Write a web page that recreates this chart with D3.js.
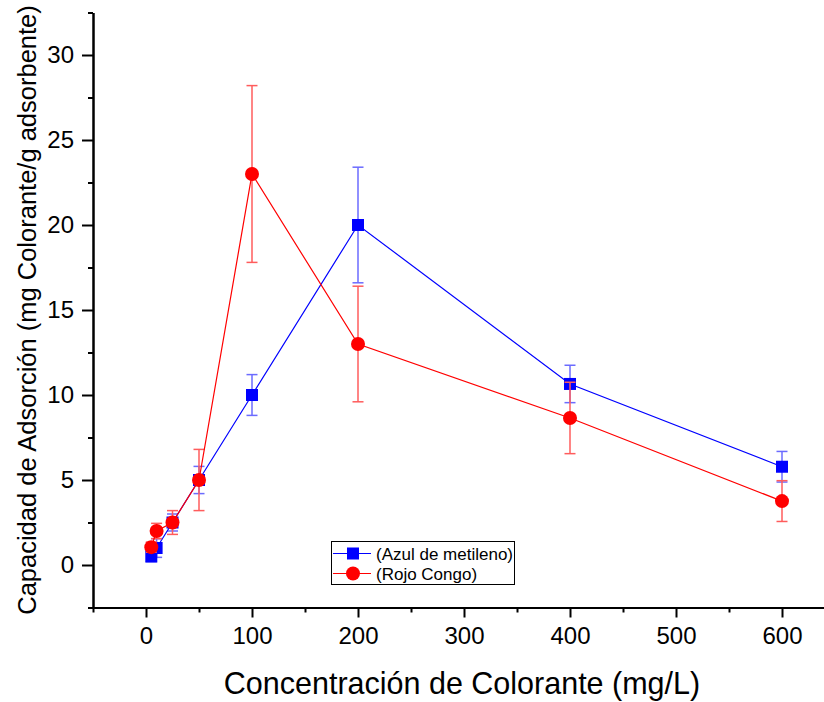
<!DOCTYPE html>
<html><head><meta charset="utf-8">
<script src="https://cdn.jsdelivr.net/npm/d3@7"></script>
<style>body{margin:0;background:#fff}svg{display:block}text{font-family:"Liberation Sans",Arial,sans-serif}</style>
</head><body><svg id="c" width="824" height="702"></svg>
<script>
const concentrations = [5, 10, 25, 50, 100, 200, 400, 600];
const azulValues = [0.5, 1.0, 2.5, 5.0, 10.0, 20.0, 10.65, 5.78];
const azulErrors = [0.3, 0.55, 0.5, 0.8, 1.2, 3.4, 1.1, 0.9];
const rojoValues = [1.05, 2.0, 2.5, 5.0, 23.0, 13.0, 8.65, 3.76];
const rojoErrors = [0.3, 0.45, 0.7, 1.8, 5.2, 3.4, 2.1, 1.2];
const xTicks = [0, 100, 200, 300, 400, 500, 600];
const yTicks = [0, 5, 10, 15, 20, 25, 30];
const seriesNames = ["(Azul de metileno)", "(Rojo Congo)"];

const svg = d3.select("#c");
const x = d3.scaleLinear().domain([-50, 650]).range([93, 835]);
const y = d3.scaleLinear().domain([-2.5, 32.5]).range([607.5, 12.5]);

const xAxisMajor = d3.axisBottom(x).tickValues(xTicks).tickSize(10).tickSizeOuter(0).tickPadding(9);
const xAxisMinor = d3.axisBottom(x).tickValues(d3.range(-50, 651, 50).filter(v => v % 100 !== 0)).tickSize(5).tickSizeOuter(0).tickFormat("");
const yAxisMajor = d3.axisLeft(y).tickValues(yTicks).tickSize(11).tickSizeOuter(0).tickPadding(8);
const yAxisMinor = d3.axisLeft(y).tickValues(d3.range(-2.5, 32.6, 5)).tickSize(5).tickSizeOuter(0).tickFormat("");

function styleAxis(g){
  g.select(".domain").attr("stroke","#000").attr("stroke-width",2);
  g.selectAll(".tick line").attr("stroke","#000").attr("stroke-width",2);
  g.selectAll(".tick text").attr("fill","#000").style("font-size","24px").style("font-family",'"Liberation Sans",Arial,sans-serif');
}
svg.append("g").attr("transform","translate(0,607.5)").call(xAxisMinor).call(styleAxis);
svg.append("g").attr("transform","translate(0,607.5)").call(xAxisMajor).call(styleAxis);
svg.append("g").attr("transform","translate(93,0)").call(yAxisMinor).call(styleAxis);
svg.append("g").attr("transform","translate(93,0)").call(yAxisMajor).call(styleAxis);

svg.append("text").attr("x", 462).attr("y", 694).attr("text-anchor","middle")
  .style("font-size","30.5px").text("Concentración de Colorante (mg/L)");
svg.append("text").attr("transform","translate(36,310) rotate(-90)").attr("text-anchor","middle")
  .style("font-size","25.5px").text("Capacidad de Adsorción (mg Colorante/g adsorbente)");

const series = [
  {name: seriesNames[0], vals: azulValues, errs: azulErrors, color:"#0000ff", err:"#6b6bff", shape:"square"},
  {name: seriesNames[1], vals: rojoValues, errs: rojoErrors, color:"#ff0000", err:"#ff5c5c", shape:"circle"}
];

series.forEach(s => {
  const pts = concentrations.map((c,i)=>({x:c, v:s.vals[i], e:s.errs[i]}));
  const g = svg.append("g");
  pts.forEach(p => {
    g.append("line").attr("x1",x(p.x)).attr("x2",x(p.x)).attr("y1",y(p.v-p.e)).attr("y2",y(p.v+p.e))
      .attr("stroke",s.err).attr("stroke-width",1.5);
    [p.v-p.e, p.v+p.e].forEach(v => g.append("line").attr("x1",x(p.x)-5.5).attr("x2",x(p.x)+5.5)
      .attr("y1",y(v)).attr("y2",y(v)).attr("stroke",s.err).attr("stroke-width",1.5));
  });
  g.append("path").datum(pts).attr("fill","none").attr("stroke",s.color).attr("stroke-width",1.2)
    .attr("d", d3.line().x(d=>x(d.x)).y(d=>y(d.v)));
  pts.forEach(p => {
    if (s.shape==="square") g.append("rect").attr("x",x(p.x)-6).attr("y",y(p.v)-6).attr("width",12).attr("height",12).attr("fill",s.color);
    else g.append("circle").attr("cx",x(p.x)).attr("cy",y(p.v)).attr("r",7).attr("fill",s.color);
  });
});

const lg = svg.append("g");
lg.append("rect").attr("x",331.5).attr("y",541.5).attr("width",183).attr("height",43).attr("fill","#fff").attr("stroke","#000").attr("stroke-width",1);
series.forEach((s,i) => {
  const yy = 553.5 + i*20;
  lg.append("line").attr("x1",333).attr("x2",371).attr("y1",yy).attr("y2",yy).attr("stroke",s.color).attr("stroke-width",1.2);
  if (s.shape==="square") lg.append("rect").attr("x",347).attr("y",yy-6).attr("width",12).attr("height",12).attr("fill",s.color);
  else lg.append("circle").attr("cx",353).attr("cy",yy).attr("r",7).attr("fill",s.color);
  lg.append("text").attr("x",376).attr("y",yy+6).style("font-size","17px").text(s.name);
});
</script></body></html>
